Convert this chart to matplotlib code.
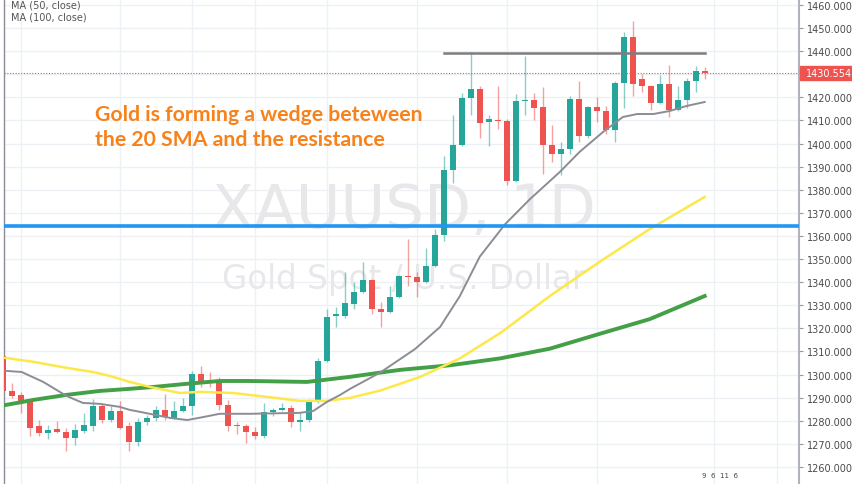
import matplotlib.pyplot as plt
from matplotlib.patches import Rectangle
import numpy as np

# daily candles
opens = [1308, 1293, 1291, 1288.5, 1277.5, 1274.5, 1276.5, 1275, 1272.5, 1275.5,
         1277.5, 1286.5, 1280.5, 1284, 1277.5, 1271, 1279.5, 1281, 1284.7, 1281.3,
         1284.2, 1286.4, 1300.3, 1297.5, 1296.8, 1286.8, 1278, 1277.8, 1275, 1273.5,
         1283.8, 1284.7, 1285.5, 1279.5, 1280.3, 1288.2, 1305.9, 1325.5, 1325.5, 1330.6,
         1335.8, 1341, 1328.4, 1327, 1333.6, 1342.5, 1342.3, 1340, 1347, 1360.4,
         1388.6, 1399.4, 1419.7, 1423.6, 1409.5, 1410.3, 1409.8, 1383.8, 1418.4, 1418.8,
         1415.8, 1399.4, 1395.5, 1397.7, 1419.3, 1403.3, 1415.8, 1414.1, 1405.9, 1426.2,
         1446.1, 1428, 1425, 1417.6, 1425.8, 1414.5, 1418.9, 1427.1, 1431.4]
highs = [1309, 1296.5, 1292.5, 1289, 1280.5, 1278, 1280, 1277, 1278.5, 1283.5,
         1289.5, 1287.5, 1286.5, 1288.5, 1279.5, 1281, 1282.5, 1286.5, 1291.5, 1288.5,
         1290, 1301.6, 1303.7, 1301.1, 1299, 1289, 1279.5, 1278.5, 1277.3, 1287.7,
         1285.5, 1287.7, 1286.8, 1283.4, 1289.5, 1307.2, 1328.5, 1329.3, 1344.5, 1340,
         1348.7, 1341.5, 1331.4, 1338.4, 1343, 1358.7, 1344.4, 1354.8, 1363, 1394.6,
         1412.4, 1421.9, 1439.7, 1425, 1412.4, 1425, 1410.5, 1421.5, 1438, 1421.9,
         1424.5, 1408, 1400.7, 1420.6, 1427, 1416.3, 1420.2, 1416.3, 1427.1, 1448.3,
         1453.2, 1430.1, 1425.5, 1429.7, 1434, 1424.9, 1428.4, 1433.6, 1433.2]
lows = [1292, 1290, 1283.5, 1273.5, 1273.5, 1272, 1274.5, 1267, 1269.5, 1274.5,
        1275.5, 1279, 1279.5, 1276.5, 1267, 1269, 1278, 1280, 1280.3, 1280.8,
        1283.8, 1282.5, 1294.6, 1294.6, 1284.7, 1275.6, 1274.3, 1270.4, 1272, 1272.5,
        1282, 1284.3, 1277.3, 1275.6, 1279.5, 1287.5, 1305.5, 1320.6, 1324.5, 1328.4,
        1335.3, 1326.2, 1320.6, 1326.5, 1333, 1338.4, 1333.6, 1339.5, 1346.5, 1357.8,
        1383, 1399, 1412.4, 1402.4, 1399, 1406.3, 1382.1, 1383.5, 1412.4, 1410.2,
        1386.8, 1392, 1386.4, 1395.5, 1400.7, 1402.4, 1409.4, 1404.2, 1400.7, 1415.2,
        1420.6, 1422.3, 1414.5, 1417.3, 1411.5, 1414, 1415.4, 1422.3, 1428]
closes = [1293, 1290.5, 1288, 1277, 1274.5, 1276, 1275, 1272.5, 1276, 1278,
          1286.5, 1280.5, 1284, 1277, 1271, 1279.5, 1281, 1284.7, 1281.7, 1284.3,
          1286.4, 1300.3, 1297.2, 1296.8, 1286.8, 1277.8, 1277.5, 1275, 1273.5, 1283.8,
          1284.7, 1285.5, 1279.5, 1280.3, 1288.6, 1305.9, 1325, 1326, 1331, 1335.8,
          1341, 1328.4, 1327, 1333.6, 1342.7, 1342.1, 1340, 1347, 1360.4, 1388.6,
          1399.4, 1419.7, 1423.6, 1408.9, 1410.5, 1409.7, 1383.8, 1418.4, 1418.8, 1415.4,
          1399.4, 1395.5, 1397.7, 1419.3, 1403.3, 1415.8, 1414.1, 1405.9, 1426.2, 1446.1,
          1425.6, 1425, 1417.6, 1425.8, 1414.5, 1418.9, 1427.1, 1431.4, 1430.554]

# moving averages (bar index, price)
ma20_x = [0.3, 2.1, 4.5, 7.1, 8.9, 10.8, 13, 14.1, 15.3, 18.6, 20.5, 22.3, 24.1, 27.5,
          33, 34.5, 36, 37.5, 38.6, 42, 45.8, 48.6, 50.8, 53, 55.8, 58.6, 61.9, 64.1,
          66.7, 68.9, 70.5, 72.3, 74.1, 76, 78]
ma20_y = [1301.6, 1301.1, 1296.8, 1290.7, 1287.7, 1287.3, 1286, 1284.7, 1283.8, 1281.2,
          1280.3, 1281.6, 1283, 1283, 1283.4, 1284.2, 1288.1, 1291.2, 1293.8, 1301,
          1311, 1320.6, 1334, 1351, 1365, 1376, 1387.7, 1396.4, 1405, 1411.5, 1412.8,
          1412.8, 1414.1, 1416.3, 1418]
ma50_x = [0.3, 3.4, 7.1, 10, 11.9, 14.1, 16.4, 19.7, 21.9, 25.6, 29.4, 33, 36, 38.6,
          41.9, 46.4, 50.8, 55.3, 60.8, 66.4, 71.9, 78]
ma50_y = [1307.2, 1305.5, 1302.9, 1301.1, 1299.4, 1296.8, 1294.6, 1292, 1292.5, 1292,
          1290.3, 1288.6, 1288.6, 1289.9, 1293, 1299, 1307, 1318, 1334, 1349, 1363, 1376.9]
ma100_x = [0.3, 3.4, 7.1, 10.8, 14.1, 16.7, 20.5, 24.1, 27.5, 33.8, 38.6, 44.1, 49.7,
           55.3, 60.8, 66.4, 71.9, 78]
ma100_y = [1286.8, 1289, 1291.2, 1292.9, 1293.8, 1294.6, 1296, 1297.2, 1297.2, 1296.8,
           1299, 1302, 1304, 1307, 1311.2, 1317.7, 1324, 1334]

support = 1364.3
resistance = 1439.1
last_price = 1430.554
price_ticks = list(range(1260, 1461, 10))
vgrid = [2, 13, 21, 28, 36, 46, 56, 66, 79, 86]

UP = '#26a69a'
DOWN = '#ef5350'

W, H = 852, 485
fig = plt.figure(figsize=(W / 100, H / 100), dpi=100)
ax = fig.add_axes([4 / W, 0, 795 / W, 1])
ax.set_xlim(0.14, 88.48)
ax.set_ylim(1252.6, 1462.6)

for p in price_ticks:
    ax.axhline(p, color='#edf0f4', lw=1, zorder=0)
for g in vgrid:
    ax.axvline(g, color='#edf0f4', lw=1, zorder=0)

ax.text(44.6, 1371, 'XAUUSD, 1D', fontsize=44, color='#e8e8ea', ha='center',
        va='center', family='DejaVu Sans', zorder=0.5)
ax.text(44.6, 1341.5, 'Gold Spot / U.S. Dollar', fontsize=23.5, color='#e8e8ea',
        ha='center', va='center', family='DejaVu Sans', zorder=0.5)

o = np.array(opens)
h = np.array(highs)
l = np.array(lows)
c = np.array(closes)
idx = np.arange(len(o))
cols = np.where(c >= o, UP, DOWN)
ax.vlines(idx, l, h, colors=cols, lw=1, alpha=0.55, zorder=2)
bottom = np.minimum(o, c)
height = np.maximum(np.abs(c - o), 0.5)
ax.bar(idx, height, bottom=bottom, width=0.68, color=cols, lw=0, zorder=3)

ax.plot(ma100_x, ma100_y, color='#43a047', lw=2.8, zorder=4)
ax.plot(ma50_x, ma50_y, color='#fde84a', lw=1.8, zorder=4)
ax.plot(ma20_x, ma20_y, color='#8c8c94', lw=1.4, zorder=4)

ax.axhline(support, color='#2196f3', lw=2.6, zorder=5)
ax.plot([49, 78], [resistance, resistance], color='#7d7d80', lw=1.8, zorder=5)
ax.axhline(last_price, color=DOWN, lw=0.8, ls=(0, (1, 1.5)), zorder=5)

ax.text(10.2, 1407.5, 'Gold is forming a wedge beteween\nthe 20 SMA and the resistance',
        fontsize=15.3, fontweight='bold', color='#f7821b', family='Lato',
        linespacing=1.3, va='center', ha='left', zorder=6)

ax.yaxis.tick_right()
ax.set_yticks(price_ticks)
# the 1430 label sits under the last-price box
ax.set_yticklabels(['' if p == 1430 else f'{p:.3f}' for p in price_ticks])
ax.tick_params(axis='y', length=3, color='#9598a1', labelsize=7,
               labelcolor='#4a4a4a', pad=3)
ax.set_xticks([])
for s in ['top', 'bottom']:
    ax.spines[s].set_visible(False)
ax.spines['right'].set_color('#b0b3bb')
ax.spines['right'].set_linewidth(1.5)
ax.spines['left'].set_color('#8a8d96')
ax.spines['left'].set_linewidth(1)

# last price label
yfrac = (last_price - 1252.6) / (1462.6 - 1252.6)
fig.patches.append(Rectangle((800 / W, yfrac - 7 / H), 52 / W, 14 / H,
                             transform=fig.transFigure, color=DOWN, zorder=10))
fig.text(806 / W, yfrac, f'{last_price:.3f}', color='white', fontsize=7,
         va='center', ha='left', zorder=11)

fig.text(11 / W, 1 - 6 / H, 'MA (50, close)', fontsize=7, color='#555555', va='center')
fig.text(11 / W, 1 - 17 / H, 'MA (100, close)', fontsize=7, color='#555555', va='center')
fig.text(702 / W, 1 - 476 / H, '9  6  11  6', fontsize=5, color='#444444', va='center')

fig.savefig('out.png', dpi=100)
